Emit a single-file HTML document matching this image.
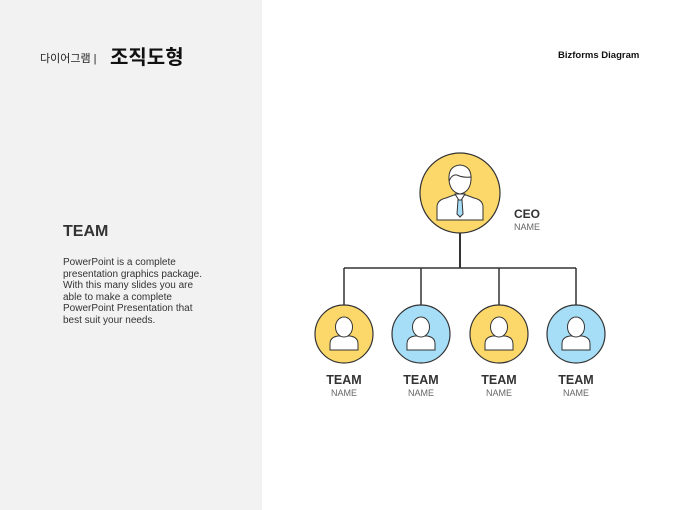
<!DOCTYPE html>
<html><head><meta charset="utf-8"><style>
*{margin:0;padding:0}
body{width:680px;height:510px;position:relative;background:#fff;font-family:"Liberation Sans","Noto Sans CJK KR",sans-serif;overflow:hidden}
.left{position:absolute;left:0;top:0;width:262px;height:510px;background:#f2f2f2}
.t1{position:absolute;left:40px;top:50px;font-size:11px;color:#222}
.t2{position:absolute;left:110px;top:41px;font-size:20px;font-weight:bold;color:#111}
.biz{position:absolute;left:558px;top:50px;font-size:9.5px;font-weight:bold;color:#111}
.team{position:absolute;left:63px;top:223px;font-size:16px;font-weight:bold;color:#333}
.para{position:absolute;left:63px;top:257px;font-size:10px;line-height:11.5px;color:#333;width:145px}
</style></head><body>
<div class="left"></div>
<div class="t1">다이어그램 |</div>
<div class="t2">조직도형</div>
<div class="biz">Bizforms Diagram</div>
<div class="team">TEAM</div>
<div class="para">PowerPoint is a complete presentation graphics package. With this many slides you are able to make a complete PowerPoint Presentation that best suit your needs.</div>
<svg width="680" height="510" style="position:absolute;left:0;top:0" font-family="Liberation Sans, sans-serif">
<g stroke="#333" stroke-width="1.5" fill="none">
<line x1="460" y1="233" x2="460" y2="268" stroke-width="2"/>
<line x1="344" y1="268" x2="576" y2="268"/>
<line x1="344" y1="268" x2="344" y2="305"/>
<line x1="421" y1="268" x2="421" y2="305"/>
<line x1="499" y1="268" x2="499" y2="305"/>
<line x1="576" y1="268" x2="576" y2="305"/>
</g>
<circle cx="460" cy="193" r="40" fill="#fcd86b" stroke="#333" stroke-width="1.2"/>
<g stroke="#333" stroke-width="1" fill="#fff">
<path d="M437 220 v-13 q0-7 9-9 l8-3 h12 l8 3 q9 2 9 9 v13 z"/>
<path d="M455 194 l5 8 l5-8 z"/>
<path d="M458 200 h4 l1 14 l-3 3 l-3-3 z" fill="#a6ddf7"/>
<path d="M449 180 q-1-14 11-15 q12 1 11 15 q-1 12-11 14 q-10-2-11-14z"/>
<path d="M449 181 q3-7 8-6 q6 3 14 2" fill="none"/>
</g>
<g>
<circle cx="344" cy="334" r="29" fill="#fcd86b" stroke="#333" stroke-width="1.2"/>
<circle cx="421" cy="334" r="29" fill="#a6ddf7" stroke="#333" stroke-width="1.2"/>
<circle cx="499" cy="334" r="29" fill="#fcd86b" stroke="#333" stroke-width="1.2"/>
<circle cx="576" cy="334" r="29" fill="#a6ddf7" stroke="#333" stroke-width="1.2"/>
</g>
<defs><g id="p"><path d="M-14 16 v-6 q0-7 8-8 h12 q8 1 8 8 v6 z" fill="#fff" stroke="#333"/><ellipse cx="0" cy="-7" rx="8.5" ry="10" fill="#fff" stroke="#333"/></g></defs>
<use href="#p" x="344" y="334"/><use href="#p" x="421" y="334"/><use href="#p" x="499" y="334"/><use href="#p" x="576" y="334"/>
<text x="514" y="218" font-size="12" font-weight="bold" fill="#333">CEO</text>
<text x="514" y="230" font-size="9" fill="#666">NAME</text>
<g text-anchor="middle">
<text x="344" y="384" font-size="12.5" font-weight="bold" fill="#333">TEAM</text><text x="344" y="396" font-size="9" fill="#666">NAME</text>
<text x="421" y="384" font-size="12.5" font-weight="bold" fill="#333">TEAM</text><text x="421" y="396" font-size="9" fill="#666">NAME</text>
<text x="499" y="384" font-size="12.5" font-weight="bold" fill="#333">TEAM</text><text x="499" y="396" font-size="9" fill="#666">NAME</text>
<text x="576" y="384" font-size="12.5" font-weight="bold" fill="#333">TEAM</text><text x="576" y="396" font-size="9" fill="#666">NAME</text>
</g>
</svg>
</body></html>
